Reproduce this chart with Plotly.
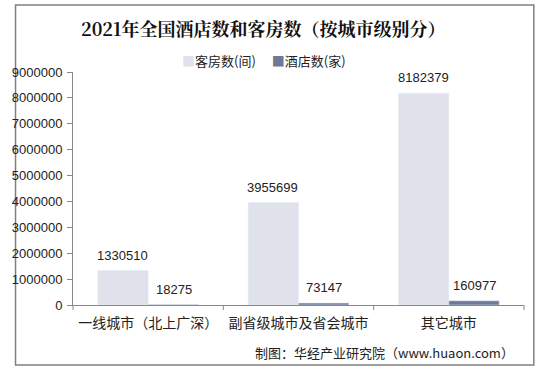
import plotly.graph_objects as go

categories = ["一线城市（北上广深）", "副省级城市及省会城市", "其它城市"]
rooms = [1330510, 3955699, 8182379]
hotels = [18275, 73147, 160977]
series_names = ["客房数(间)", "酒店数(家)"]
y_ticks = [0, 1000000, 2000000, 3000000, 4000000, 5000000, 6000000, 7000000, 8000000, 9000000]

LIGHT = "#dfe2eb"
DARK = "#6f7899"
FONT = "Liberation Sans, Arial, Noto Sans CJK SC, sans-serif"

L, R, T, B = 65, 18, 72, 67
W, H = 542, 372
dw, dh = W - L - R, H - T - B

def px(x):
    return (x - L) / dw

def py(y):
    return (H - B - y) / dh

fig = go.Figure()
fig.add_trace(go.Bar(x=categories, y=rooms, name=series_names[0], marker_color=LIGHT))
fig.add_trace(go.Bar(x=categories, y=hotels, name=series_names[1], marker_color=DARK))

bargap = 0.33
band = dw / len(categories)
bar_w = band * (1 - bargap) / 2
for cat, v in zip(categories, rooms):
    fig.add_annotation(x=cat, y=v, text=str(v), showarrow=False, xshift=-bar_w / 2,
                       yanchor="bottom", yshift=6, font=dict(size=13, color="#222"))
for cat, v in zip(categories, hotels):
    fig.add_annotation(x=cat, y=v, text=str(v), showarrow=False, xshift=bar_w / 2,
                       yanchor="bottom", yshift=6, font=dict(size=13, color="#222"))

fig.update_layout(
    width=W, height=H,
    margin=dict(l=L, r=R, t=T, b=B),
    paper_bgcolor="white", plot_bgcolor="white",
    barmode="group", bargap=bargap, bargroupgap=0,
    showlegend=False,
    font=dict(family=FONT, size=13, color="#222"),
    xaxis=dict(showline=True, linecolor="#888", linewidth=1, ticks="", showgrid=False,
               tickfont=dict(size=14, family="Noto Sans CJK SC", color="#222"),
               ticklabelstandoff=5, fixedrange=True),
    yaxis=dict(range=[0, 9000000], tickvals=y_ticks, ticktext=[str(v) for v in y_ticks],
               showline=True, linecolor="#888", linewidth=1, ticks="outside", ticklen=5,
               tickcolor="#888", showgrid=False, zeroline=False,
               tickfont=dict(size=13, color="#222"), ticklabelstandoff=2),
)

# category boundary ticks on x-axis
for b in [0, 1/3, 2/3, 1]:
    fig.add_shape(type="line", xref="paper", yref="paper", x0=b, x1=b, y0=0, y1=py(H - B + 5),
                  line=dict(color="#888", width=1))

# outer border
fig.add_shape(type="rect", xref="paper", yref="paper",
              x0=px(6.5), x1=px(534), y0=py(365), y1=py(5),
              line=dict(color="#808080", width=1.5), fillcolor="rgba(0,0,0,0)", layer="below")

fig.add_annotation(text="<b>2021年全国酒店数和客房数（按城市级别分）</b>", xref="paper", yref="paper",
                   x=px(258), y=py(28), yanchor="middle", showarrow=False,
                   font=dict(size=18, family="Noto Serif CJK SC, Noto Sans CJK SC", color="#111"))

fig.add_annotation(
    text=f"<span style='color:{LIGHT}'>■</span>{series_names[0]}　 <span style='color:{DARK}'>■</span>{series_names[1]}",
    xref="paper", yref="paper", x=px(259), y=py(60), yanchor="middle", showarrow=False,
    font=dict(size=13, family="Noto Sans CJK SC", color="#222"))

fig.add_annotation(text="制图：华经产业研究院（www.huaon.com）", xref="paper", yref="paper",
                   x=px(516), y=py(352), xanchor="right", yanchor="middle", showarrow=False,
                   font=dict(size=13, family="Noto Sans CJK SC", color="#222"))

fig.write_html("out.html")
